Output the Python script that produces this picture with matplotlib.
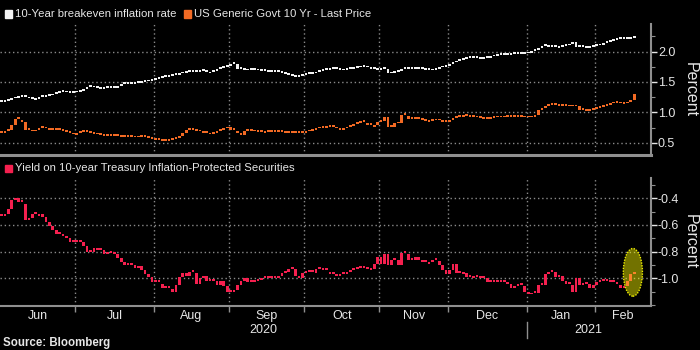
import numpy as np
import matplotlib
matplotlib.use('Agg')
import matplotlib.pyplot as plt
from matplotlib.patches import Ellipse, Rectangle
from matplotlib.lines import Line2D
from matplotlib.ticker import MultipleLocator, FormatStrFormatter
import matplotlib.transforms as mtransforms

plt.rcParams['font.family'] = ['Liberation Sans', 'DejaVu Sans']
plt.rcParams['axes.unicode_minus'] = False

# ---------------- data ----------------
months = ['Jun', 'Jul', 'Aug', 'Sep', 'Oct', 'Nov', 'Dec', 'Jan', 'Feb']
month_days = [22, 23, 22, 22, 22, 20, 23, 20, 12]   # trading days shown per month
years = ['2020', '2021']
year_months = [7, 2]

breakeven = [
    1.18, 1.19, 1.21, 1.23, 1.24, 1.26, 1.25, 1.23, 1.22, 1.20, 1.22, 1.25, 1.25, 1.27, 1.28, 1.30, 1.32, 1.34, 1.33, 1.32, 1.32, 1.33,
    1.34, 1.36, 1.39, 1.42, 1.41, 1.40, 1.39, 1.39, 1.40, 1.40, 1.40, 1.40, 1.44, 1.47, 1.47, 1.47, 1.47, 1.48, 1.49, 1.50, 1.51, 1.52, 1.53,
    1.55, 1.57, 1.58, 1.59, 1.60, 1.61, 1.62, 1.64, 1.65, 1.67, 1.66, 1.66, 1.67, 1.68, 1.66, 1.64, 1.66, 1.68, 1.71, 1.73, 1.75,
    1.77, 1.80, 1.79, 1.71, 1.70, 1.69, 1.70, 1.70, 1.69, 1.68, 1.68, 1.67, 1.67, 1.67, 1.67, 1.65, 1.63, 1.61, 1.60, 1.59, 1.58, 1.60,
    1.61, 1.63, 1.63, 1.64, 1.66, 1.68, 1.70, 1.70, 1.71, 1.71, 1.70, 1.69, 1.70, 1.71, 1.72, 1.73, 1.74, 1.75, 1.74, 1.72, 1.71, 1.70,
    1.70, 1.71, 1.72, 1.64, 1.65, 1.66, 1.68, 1.71, 1.72, 1.71, 1.71, 1.71, 1.71, 1.70, 1.70, 1.69, 1.70, 1.72, 1.74, 1.75, 1.77,
    1.80, 1.82, 1.84, 1.86, 1.88, 1.89, 1.89, 1.89, 1.88, 1.88, 1.89, 1.90, 1.92, 1.93, 1.94, 1.95, 1.95, 1.95, 1.96, 1.96, 1.96, 1.96, 1.97,
    1.98, 2.01, 2.03, 2.05, 2.09, 2.08, 2.07, 2.07, 2.06, 2.07, 2.09, 2.10, 2.12, 2.15, 2.07, 2.07, 2.06, 2.06, 2.08, 2.09,
    2.10, 2.11, 2.14, 2.16, 2.18, 2.19, 2.20, 2.20, 2.20, 2.20, 2.22, 2.25,
]

us10y = [
    0.67, 0.70, 0.72, 0.80, 0.90, 0.88, 0.84, 0.71, 0.69, 0.69, 0.72, 0.75, 0.74, 0.72, 0.71, 0.71, 0.71, 0.70, 0.68, 0.66, 0.64, 0.63,
    0.66, 0.68, 0.68, 0.67, 0.65, 0.64, 0.63, 0.62, 0.62, 0.62, 0.61, 0.61, 0.60, 0.60, 0.60, 0.60, 0.59, 0.59, 0.60, 0.60, 0.58, 0.57, 0.55,
    0.55, 0.54, 0.54, 0.54, 0.55, 0.56, 0.58, 0.62, 0.66, 0.71, 0.71, 0.70, 0.69, 0.67, 0.66, 0.64, 0.65, 0.67, 0.70, 0.71, 0.74,
    0.76, 0.72, 0.70, 0.66, 0.63, 0.70, 0.70, 0.69, 0.68, 0.68, 0.67, 0.68, 0.68, 0.68, 0.68, 0.68, 0.67, 0.67, 0.67, 0.67, 0.67, 0.66,
    0.66, 0.69, 0.70, 0.72, 0.74, 0.75, 0.75, 0.77, 0.76, 0.74, 0.72, 0.72, 0.74, 0.77, 0.78, 0.81, 0.83, 0.84, 0.83, 0.79, 0.77, 0.79,
    0.84, 0.86, 0.92, 0.76, 0.77, 0.82, 0.82, 0.96, 0.95, 0.90, 0.90, 0.90, 0.88, 0.86, 0.85, 0.86, 0.87, 0.87, 0.88, 0.85, 0.85,
    0.88, 0.91, 0.93, 0.93, 0.94, 0.93, 0.93, 0.92, 0.91, 0.90, 0.90, 0.90, 0.91, 0.92, 0.92, 0.92, 0.93, 0.93, 0.93, 0.93, 0.93, 0.92, 0.92,
    0.92, 0.93, 0.96, 1.04, 1.08, 1.11, 1.13, 1.13, 1.11, 1.11, 1.11, 1.10, 1.10, 1.10, 1.10, 1.04, 1.03, 1.03, 1.04, 1.06,
    1.07, 1.09, 1.11, 1.13, 1.15, 1.16, 1.15, 1.14, 1.15, 1.17, 1.20, 1.30,
]

tips = [
    -0.53, -0.52, -0.48, -0.41, -0.40, -0.43, -0.44, -0.56, -0.55, -0.52, -0.53, -0.52, -0.54, -0.58, -0.61, -0.64, -0.67, -0.68, -0.68, -0.70, -0.73, -0.73,
    -0.71, -0.73, -0.76, -0.80, -0.80, -0.77, -0.79, -0.79, -0.82, -0.81, -0.80, -0.82, -0.85, -0.88, -0.90, -0.90, -0.90, -0.92, -0.91, -0.94, -0.97, -0.99, -1.03,
    -1.03, -1.04, -1.07, -1.07, -1.08, -1.10, -1.05, -0.99, -0.96, -0.98, -0.95, -0.96, -1.04, -1.00, -0.98, -1.02, -1.02, -1.02, -1.05, -1.02, -1.06,
    -1.10, -1.10, -1.09, -1.05, -1.02, -1.00, -1.03, -1.03, -1.02, -1.01, -1.00, -1.00, -1.00, -1.00, -1.00, -0.98, -0.96, -0.95, -0.93, -0.93, -0.98, -1.00,
    -0.96, -0.95, -0.95, -0.96, -0.93, -0.94, -0.94, -0.95, -0.97, -0.98, -0.98, -0.97, -0.97, -0.95, -0.94, -0.93, -0.92, -0.92, -0.93, -0.94, -0.93, -0.89,
    -0.84, -0.89, -0.82, -0.90, -0.86, -0.86, -0.90, -0.81, -0.82, -0.86, -0.86, -0.84, -0.86, -0.88, -0.89, -0.88, -0.86, -0.87, -0.90, -0.94, -0.97,
    -0.94, -0.89, -0.96, -0.97, -0.96, -0.99, -1.00, -0.99, -1.00, -1.00, -1.00, -1.03, -1.03, -1.03, -1.03, -1.03, -1.04, -1.04, -1.07, -1.06, -1.05, -1.06, -1.10,
    -1.12, -1.11, -1.11, -1.05, -1.05, -0.97, -0.95, -0.95, -0.99, -0.98, -1.02, -1.04, -1.05, -1.10, -1.00, -1.05, -1.04, -1.04, -1.07, -1.05,
    -1.03, -1.02, -1.02, -1.03, -1.03, -1.04, -1.05, -1.07, -1.06, -1.02, -0.97, -0.95,
]

legend_top = ['10-Year breakeven inflation rate', 'US Generic Govt 10 Yr - Last Price']
legend_bottom = 'Yield on 10-year Treasury Inflation-Protected Securities'

# ---------------- style ----------------
BG = '#000000'
TXT = '#e6e6e6'
GRID = '#8a8a8a'
SPINE = '#8f8f8f'
C_WHITE = '#f2f2f2'
C_ORANGE = '#f26a24'
C_RED = '#f5204f'

W, H = 700, 350
fig = plt.figure(figsize=(7, 3.5), dpi=100, facecolor=BG)

def px_axes(x0, y0, x1, y1):
    return fig.add_axes([x0 / W, 1 - y1 / H, (x1 - x0) / W, (y1 - y0) / H])

ax1 = px_axes(0, 24, 651, 155)
ax2 = px_axes(0, 178, 651, 306)

XMIN, XMAX = -0.44, 189.9
bounds = np.cumsum([0] + month_days) - 0.5
inner = bounds[1:-1]


def candles(ax, closes, color, min_h):
    c = np.asarray(closes, float)
    o = np.r_[c[0], c[:-1]]
    x = np.arange(len(c))
    h = c - o
    h = np.where(np.abs(h) < min_h, min_h, h)
    ax.bar(x, h, bottom=o, width=0.78, color=color, linewidth=0, zorder=3)


for ax in (ax1, ax2):
    ax.set_facecolor(BG)
    ax.set_xlim(XMIN, XMAX)
    for s in ('left', 'top'):
        ax.spines[s].set_visible(False)
    ax.spines['right'].set_color(SPINE)
    ax.spines['right'].set_linewidth(1.5)
    ax.spines['bottom'].set_color(SPINE)
    ax.yaxis.tick_right()
    ax.yaxis.set_major_formatter(FormatStrFormatter('%.1f'))
    ax.tick_params(axis='y', which='major', direction='out', length=4, width=1,
                   color=TXT, labelcolor=TXT, labelsize=9, pad=1)
    ax.tick_params(axis='y', which='minor', direction='out', length=3, width=0.8, color=SPINE)
    ax.set_xticks(inner)
    ax.set_axisbelow(True)
    ax.grid(True, which='major', color=GRID, linestyle=(0, (1, 2)), linewidth=1.0)

ax1.spines['bottom'].set_linewidth(2.2)
ax2.spines['bottom'].set_linewidth(1.5)

candles(ax1, breakeven, C_WHITE, 0.03)
candles(ax1, us10y, C_ORANGE, 0.03)
candles(ax2, tips, C_RED, 0.014)

ax1.set_ylim(0.303, 2.451)
ax1.set_yticks([0.5, 1.0, 1.5, 2.0])
ax1.yaxis.set_minor_locator(MultipleLocator(0.25))
ax1.tick_params(axis='x', which='both', length=0, labelbottom=False)

ax2.set_ylim(-1.207, -0.249)
ax2.set_yticks([-1.0, -0.8, -0.6, -0.4])
ax2.yaxis.set_minor_locator(MultipleLocator(0.1))
ax2.set_xticklabels([''] * len(inner))
ax2.tick_params(axis='x', which='major', direction='out', length=4, width=1, color=SPINE)
centers = [(bounds[k] + min(bounds[k + 1], XMAX)) / 2 for k in range(len(months))]
centers[-1] = (bounds[-2] + XMAX) / 2
ax2.set_xticks(centers, minor=True)
ax2.set_xticklabels(months, minor=True)
ax2.tick_params(axis='x', which='minor', length=0, pad=3, labelsize=9, labelcolor=TXT)

# Percent labels
for ax in (ax1, ax2):
    ax.text(690 / 651, 0.5, 'Percent', transform=ax.transAxes, rotation=270,
            ha='center', va='center', color=TXT, fontsize=11.5)

# Year labels and separator
blend = mtransforms.blended_transform_factory(ax2.transData, fig.transFigure)
mi = np.cumsum([0] + year_months)
for k, yr in enumerate(years):
    left = bounds[mi[k]]
    right = min(bounds[mi[k + 1]], XMAX) if k < len(years) - 1 else XMAX
    fig.text((left + right) / 2, 1 - 330 / H, yr, transform=blend, ha='center', va='center',
             color=TXT, fontsize=9)
sep_x = bounds[mi[1]]
fig.add_artist(Line2D([sep_x, sep_x], [1 - 322 / H, 1 - 338 / H], transform=blend,
                      color=SPINE, linewidth=1))

# Highlight ellipse
ax2.add_patch(Ellipse((184.6, -0.955), width=5.6, height=0.357, facecolor=(1, 1, 0, 0.45),
                      edgecolor='#f0f000', linestyle=(0, (1, 1)), linewidth=1.0, zorder=5))

# Legends
def legend_item(x, y, color, label):
    fig.add_artist(Rectangle((x / W, 1 - (y + 3.5) / H), 7 / W, 7 / H,
                             transform=fig.transFigure, color=color))
    fig.text((x + 10) / W, 1 - y / H, label, color=TXT, fontsize=8.2, va='center', ha='left')

legend_item(5, 14, C_WHITE, legend_top[0])
legend_item(184, 14, C_ORANGE, legend_top[1])
legend_item(5, 168, C_RED, legend_bottom)

fig.text(3 / W, 1 - 343 / H, 'Source: Bloomberg', color=TXT, fontsize=8.3, fontweight='bold',
         va='center', ha='left')

fig.savefig('out.png', dpi=100, facecolor=BG)
